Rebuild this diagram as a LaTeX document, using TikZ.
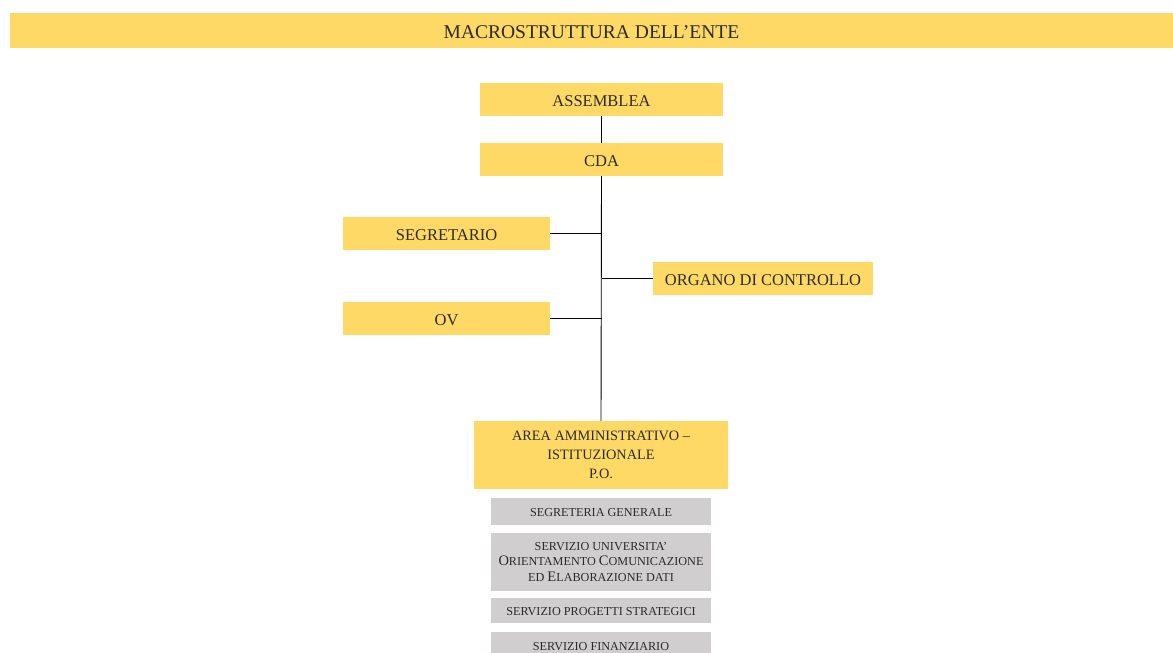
\documentclass[tikz,border=0pt]{standalone}
\usepackage{fontspec}
\setmainfont{Liberation Serif}
\definecolor{yel}{HTML}{FFD966}
\definecolor{gry}{HTML}{D0CECE}
\definecolor{txt}{HTML}{2B2B2B}
\newcommand\gs[2]{{\fontsize{14.5}{16}\selectfont #1}#2}
\begin{document}
\begin{tikzpicture}[x=1pt,y=-1pt,
  ybox/.style={fill=yel, inner sep=0pt, text=txt, align=center, font=\fontsize{16.5}{19}\selectfont},
  one/.style={text depth=0pt, text height=14pt},
  gbox/.style={fill=gry, inner sep=0pt, text=txt, align=center, minimum width=220pt, font=\fontsize{12.2}{15.5}\selectfont},
  gone/.style={text depth=0pt, text height=9pt},
  conn/.style={draw=black, line width=0.9pt}]
\useasboundingbox (0,0) rectangle (1173,653);
\fill[white] (0,0) rectangle (1173,653);
\node[ybox, minimum width=1163pt, minimum height=35pt, font=\fontsize{19.5}{20}\selectfont, text depth=0pt, text height=15pt] (title) at (591.5,30.5) {MACROSTRUTTURA DELL’ENTE};
\node[ybox, one, minimum width=243pt, minimum height=33pt] (ass) at (601.5,99.5) {ASSEMBLEA};
\node[ybox, one, minimum width=243pt, minimum height=33pt] (cda) at (601.5,159.5) {CDA};
\node[ybox, one, minimum width=207pt, minimum height=33pt] (seg) at (446.5,233.5) {SEGRETARIO};
\node[ybox, one, minimum width=220pt, minimum height=33pt] (org) at (763,278.5) {ORGANO DI CONTROLLO};
\node[ybox, one, minimum width=207pt, minimum height=33pt] (ov) at (446.5,318.5) {OV};
\node[ybox, minimum width=254pt, minimum height=68pt, font=\fontsize{14.3}{19}\selectfont] (area) at (601,455) {AREA AMMINISTRATIVO –\\ISTITUZIONALE\\P.O.};
\node[gbox, gone, minimum height=27pt] (g1) at (601,511.5) {SEGRETERIA GENERALE};
\node[gbox, minimum height=58pt] (g2) at (601,561.5) {SERVIZIO UNIVERSITA’\\\gs{O}{RIENTAMENTO} \gs{C}{OMUNICAZIONE}\\ED \gs{E}{LABORAZIONE} DATI};
\node[gbox, gone, minimum height=25pt] (g3) at (601,610.5) {SERVIZIO PROGETTI STRATEGICI};
\node[gbox, gone, minimum height=28pt] (g4) at (601,646) {SERVIZIO FINANZIARIO};
\draw[conn] (ass.south) -- (cda.north);
\draw[conn] (cda.south) -- (area.north);
\draw[conn] (seg.east) -- (seg.east -| cda.south);
\draw[conn] (ov.east) -- (ov.east -| cda.south);
\draw[conn] (org.west) -- (org.west -| cda.south);
\end{tikzpicture}
\end{document}
